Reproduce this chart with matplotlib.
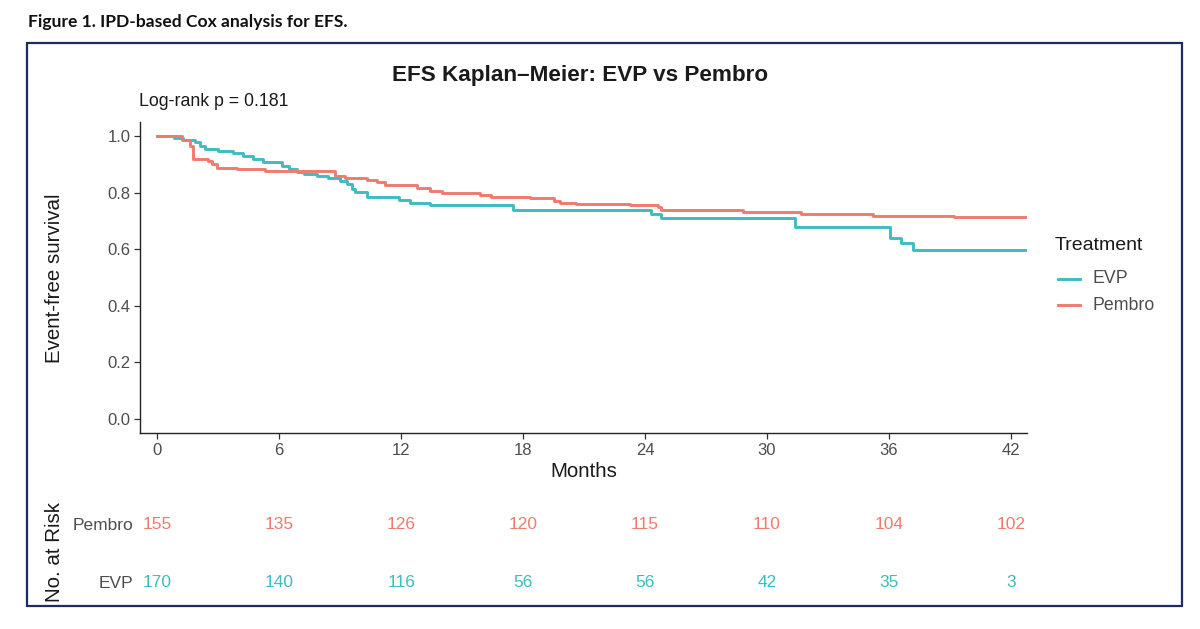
import matplotlib
matplotlib.use("Agg")
import matplotlib.pyplot as plt
from matplotlib.lines import Line2D
from matplotlib.patches import Rectangle

plt.rcParams["font.family"] = ["Liberation Sans", "DejaVu Sans"]

# Step change points (months, survival)
pembro_time = [0, 1.2, 1.6, 1.77, 2.5, 2.7, 2.95, 3.9, 5.3, 8.75, 9.25, 10.3, 10.8,
               11.2, 12.77, 13.4, 14.0, 15.9, 16.4, 18.35, 19.5, 19.8, 20.6, 23.27,
               24.65, 24.8, 28.8, 31.7, 35.2, 39.2, 42.8]
pembro_surv = [1.0, 0.986, 0.965, 0.92, 0.913, 0.90, 0.888, 0.882, 0.875, 0.86, 0.851,
               0.845, 0.837, 0.826, 0.817, 0.805, 0.798, 0.793, 0.786, 0.78, 0.770,
               0.765, 0.760, 0.755, 0.749, 0.740, 0.732, 0.725, 0.719, 0.713, 0.713]

evp_time = [0, 0.8, 1.28, 1.87, 2.1, 2.36, 3.0, 3.74, 4.23, 4.72, 5.2, 6.13, 6.5, 6.87,
            7.2, 7.85, 8.4, 9.0, 9.33, 9.58, 9.74, 10.3, 11.9, 12.44, 13.4, 17.5, 24.3,
            24.8, 31.4, 36.05, 36.6, 37.2, 42.8]
evp_surv = [1.0, 0.993, 0.988, 0.979, 0.965, 0.953, 0.948, 0.939, 0.928, 0.918, 0.907,
            0.895, 0.883, 0.874, 0.866, 0.858, 0.851, 0.843, 0.831, 0.813, 0.802, 0.784,
            0.775, 0.765, 0.755, 0.740, 0.726, 0.712, 0.680, 0.641, 0.621, 0.596, 0.596]

risk_times = [0, 6, 12, 18, 24, 30, 36, 42]
pembro_risk = [155, 135, 126, 120, 115, 110, 104, 102]
evp_risk = [170, 140, 116, 56, 56, 42, 35, 3]

groups = ["EVP", "Pembro"]

EVP_COLOR = "#3DBDC1"
PEMBRO_COLOR = "#EE7B6E"
TEXT_GRAY = "#4D4D4D"

W, H = 1200, 629
fig = plt.figure(figsize=(W / 100, H / 100), dpi=100)


def fx(px):
    return px / W


def fy(py):
    return 1 - py / H


# caption and frame
fig.text(fx(28), fy(22), "Figure 1. IPD-based Cox analysis for EFS.", fontsize=12.6,
         fontweight="bold", family=["Lato", "DejaVu Sans"], va="center", ha="left",
         color="#111111")
fig.add_artist(Rectangle((fx(27), fy(606)), fx(1182) - fx(27), fy(43) - fy(606),
                         transform=fig.transFigure, fill=False, edgecolor="#1E2B5E",
                         linewidth=1.6))

fig.text(fx(580), fy(75), "EFS Kaplan\u2013Meier: EVP vs Pembro", fontsize=16.2,
         fontweight="bold", ha="center", va="center", color="#1A1A1A")
fig.text(fx(139), fy(102), "Log-rank p = 0.181", fontsize=12.8, ha="left", va="center",
         color="#1A1A1A")

# survival plot
ax = fig.add_axes([fx(140), fy(433), fx(1027) - fx(140), fy(122) - fy(433)])
ax.step(evp_time, evp_surv, where="post", color=EVP_COLOR, lw=2.1)
ax.step(pembro_time, pembro_surv, where="post", color=PEMBRO_COLOR, lw=2.1)
ax.set_xlim(-0.85, 42.8)
ax.set_ylim(-0.05, 1.05)
ax.set_xticks(risk_times)
ax.set_yticks([0.0, 0.2, 0.4, 0.6, 0.8, 1.0])
ax.set_yticklabels(["0.0", "0.2", "0.4", "0.6", "0.8", "1.0"])
for side in ["top", "right"]:
    ax.spines[side].set_visible(False)
for side in ["left", "bottom"]:
    ax.spines[side].set_color("#222222")
    ax.spines[side].set_linewidth(1.0)
ax.tick_params(length=4, width=0.9, color="#333333", labelsize=12, labelcolor=TEXT_GRAY,
               pad=3)
ax.set_xlabel("Months", fontsize=14.8, color="#1A1A1A", labelpad=3)
fig.text(fx(55), fy(278), "Event-free survival", rotation=90, fontsize=14.8,
         ha="center", va="center", color="#1A1A1A")

# legend drawn by hand to place it like the original
fig.text(fx(1055), fy(246), "Treatment", fontsize=14, ha="left", va="center",
         color="#1A1A1A")
for name, color, ypx in zip(groups, [EVP_COLOR, PEMBRO_COLOR], [279, 305]):
    fig.add_artist(Line2D([fx(1058), fx(1080)], [fy(ypx), fy(ypx)], color=color, lw=2.1,
                          transform=fig.transFigure))
    fig.text(fx(1093), fy(ypx), name, fontsize=12.8, ha="left", va="center",
             color=TEXT_GRAY)

# risk table
rax = fig.add_axes([fx(140), fy(605), fx(1027) - fx(140), fy(495) - fy(605)])
rax.set_xlim(ax.get_xlim())
rax.set_ylim(0, 2)
for t, n in zip(risk_times, pembro_risk):
    rax.text(t, 1.47, str(n), color=PEMBRO_COLOR, fontsize=12.5, ha="center", va="center")
for t, n in zip(risk_times, evp_risk):
    rax.text(t, 0.41, str(n), color=EVP_COLOR, fontsize=12.5, ha="center", va="center")
rax.set_yticks([1.47, 0.41])
rax.set_yticklabels(["Pembro", "EVP"])
rax.set_xticks([])
rax.tick_params(length=0, labelsize=12.5, labelcolor=TEXT_GRAY, pad=5)
for s in rax.spines.values():
    s.set_visible(False)
fig.text(fx(55), fy(552), "No. at Risk", rotation=90, fontsize=14.8, ha="center",
         va="center", color="#1A1A1A")

fig.savefig("out.png", dpi=100)
